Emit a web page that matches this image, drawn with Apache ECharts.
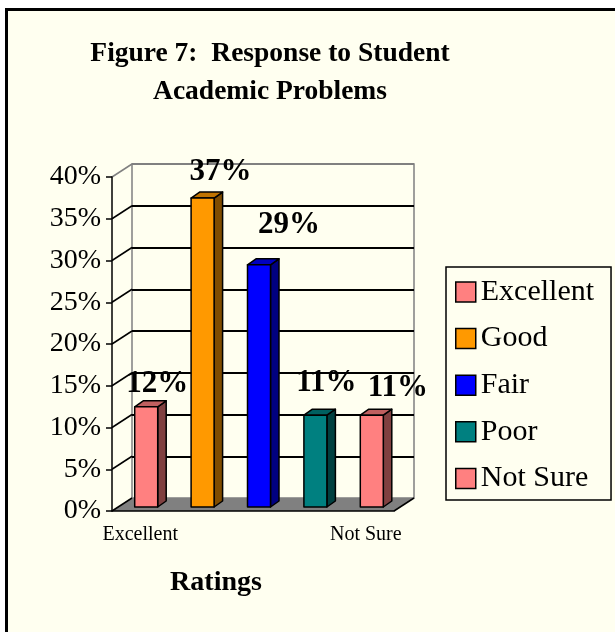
<!DOCTYPE html>
<html>
<head>
<meta charset="utf-8">
<script src="https://cdn.jsdelivr.net/npm/echarts@6/dist/echarts.min.js"></script>
<style>
  html, body { margin: 0; padding: 0; background: #fff; }
  #chart { width: 615px; height: 632px; }
</style>
</head>
<body>
<div id="chart"></div>
<script>
// data
const categories = ['Excellent', 'Good', 'Fair', 'Poor', 'Not Sure'];
const values = [0.12, 0.37, 0.29, 0.11, 0.11];
const yTicks = [0, 0.05, 0.10, 0.15, 0.20, 0.25, 0.30, 0.35, 0.40];
const shownXLabels = ['Excellent', 'Not Sure'];

// colours per bar: front, side, top
const faceColors = ['#FF8080', '#FF9900', '#0000FF', '#008080', '#FF8080'];
const sideColors = ['#804040', '#7F4C00', '#000080', '#004040', '#804040'];
const topColors = ['#C06060', '#C07300', '#0000C0', '#006060', '#C06060'];

// value label placement as Excel left it (px from bar front top)
const labelDx = [11, 18, 30, 11, 26];
const labelGap = [7, 11, 24, 17, 12];

const SERIF = '"Liberation Serif", "Times New Roman", serif';
const BG = '#FFFFF0';

// fake 3d geometry (pixels)
const WALL_DX = 20, WALL_DY = -13;
const BAR_W = 23, BAR_SHIFT_X = 6, BAR_SHIFT_Y = -4;
const BAR_DX = 8.5, BAR_DY = -6;

const chart = echarts.init(document.getElementById('chart'));

function renderBar(idx) {
    return function (params, api) {
        const base = api.coord([api.value(0), 0]);
        const top = api.coord([api.value(0), api.value(1)]);
        const cx = base[0] + BAR_SHIFT_X;
        const x0 = cx - BAR_W / 2, x1 = cx + BAR_W / 2;
        const yb = base[1] + BAR_SHIFT_Y, yt = top[1] + BAR_SHIFT_Y;
        const edge = { stroke: '#000', lineWidth: 1.5, lineJoin: 'round' };
        return {
            type: 'group',
            children: [
                { type: 'polygon', shape: { points: [[x1, yb], [x1 + BAR_DX, yb + BAR_DY], [x1 + BAR_DX, yt + BAR_DY], [x1, yt]] },
                  style: Object.assign({ fill: sideColors[idx] }, edge) },
                { type: 'polygon', shape: { points: [[x0, yt], [x1, yt], [x1 + BAR_DX, yt + BAR_DY], [x0 + BAR_DX, yt + BAR_DY]] },
                  style: Object.assign({ fill: topColors[idx] }, edge) },
                { type: 'rect', shape: { x: x0, y: yt, width: BAR_W, height: yb - yt },
                  style: Object.assign({ fill: faceColors[idx] }, edge) },
                { type: 'text', z2: 10, style: {
                    text: Math.round(api.value(1) * 100) + '%',
                    x: cx + labelDx[idx], y: yt - labelGap[idx], align: 'center', verticalAlign: 'bottom',
                    font: 'bold 31px ' + SERIF, fill: '#000' } }
            ]
        };
    };
}

const barSeries = categories.map((name, i) => ({
    name: name,
    type: 'custom',
    xAxisIndex: 0, yAxisIndex: 0,
    z: 4,
    itemStyle: { color: faceColors[i], borderColor: '#000', borderWidth: 1.5 },
    renderItem: renderBar(i),
    data: [[i, values[i]]]
}));

// side wall lines and floor
const wallSeries = {
    type: 'custom',
    xAxisIndex: 0, yAxisIndex: 0,
    z: 3,
    silent: true,
    renderItem: function (params, api) {
        const cs = params.coordSys;
        const y = api.coord([0, api.value(1)])[1];
        const isTop = api.value(1) === yTicks[yTicks.length - 1];
        return {
            type: 'line',
            shape: { x1: cs.x, y1: y, x2: cs.x + WALL_DX, y2: y + WALL_DY },
            style: { stroke: isTop ? '#808080' : '#000', lineWidth: 1.5 }
        };
    },
    data: yTicks.map(v => [0, v])
};

const floorSeries = {
    type: 'custom',
    xAxisIndex: 0, yAxisIndex: 0,
    z: 2,
    silent: true,
    renderItem: function (params, api) {
        const cs = params.coordSys;
        const yb = api.coord([0, 0])[1];
        const xl = cs.x, xr = cs.x + cs.width;
        return {
            type: 'group',
            children: [
                { type: 'polygon', shape: { points: [[xl, yb], [xr, yb], [xr + WALL_DX, yb + WALL_DY], [xl + WALL_DX, yb + WALL_DY]] },
                  style: { fill: '#808080' } },
                { type: 'line', shape: { x1: xr, y1: yb, x2: xr + WALL_DX, y2: yb + WALL_DY },
                  style: { stroke: '#000', lineWidth: 1.5 } }
            ]
        };
    },
    data: [[0, 0]]
};

const backLineColors = yTicks.map((v, i) =>
    i === 0 ? 'rgba(0,0,0,0)' : (i === yTicks.length - 1 ? '#808080' : '#000'));

chart.setOption({
    backgroundColor: '#fff',
    animation: false,
    graphic: [{
        type: 'rect', z: -100, silent: true,
        shape: { x: 6.5, y: 9.5, width: 700, height: 700 },
        style: { fill: BG, stroke: '#000', lineWidth: 3 }
    }],
    title: [
        {
            text: 'Figure 7:  Response to Student\nAcademic Problems',
            left: 265, top: 30, textAlign: 'center',
            textStyle: { fontFamily: SERIF, fontWeight: 'bold', fontSize: 27.5, lineHeight: 38, color: '#000' }
        },
        {
            text: 'Ratings',
            left: 211, top: 564, textAlign: 'center',
            textStyle: { fontFamily: SERIF, fontWeight: 'bold', fontSize: 28, color: '#000' }
        }
    ],
    legend: {
        orient: 'vertical',
        left: 446, top: 267,
        icon: 'rect',
        itemWidth: 20, itemHeight: 20, itemGap: 15.6,
        padding: [9.5, 17, 6, 9],
        borderColor: '#000', borderWidth: 1.5,
        textStyle: { fontFamily: SERIF, fontSize: 30, lineHeight: 31, color: '#000' },
        data: categories.map((c, i) => ({
            name: c,
            itemStyle: { color: faceColors[i], borderColor: '#000', borderWidth: 1.5 }
        }))
    },
    grid: [
        { left: 112, top: 177, width: 282, height: 334, outerBoundsMode: 'none' },
        { left: 112 + WALL_DX, top: 177 + WALL_DY, width: 282, height: 334, outerBoundsMode: 'none',
          show: true, borderColor: '#808080', borderWidth: 1.5, backgroundColor: 'transparent' }
    ],
    xAxis: [
        {
            gridIndex: 0, type: 'category', data: categories, z: 6,
            axisLine: { lineStyle: { color: '#000', width: 1.5 } },
            axisTick: { length: 5, lineStyle: { color: '#000', width: 1.5 } },
            axisLabel: {
                interval: (index, value) => shownXLabels.includes(value),
                margin: 14, fontFamily: SERIF, fontSize: 20, color: '#000'
            },
            splitLine: { show: false }
        },
        { gridIndex: 1, type: 'category', data: categories, show: false }
    ],
    yAxis: [
        {
            gridIndex: 0, type: 'value', min: 0, max: 0.4, interval: 0.05, z: 6,
            axisLine: { show: true, lineStyle: { color: '#000', width: 1.5 } },
            axisTick: { show: true, length: 6, lineStyle: { color: '#000', width: 1.5 } },
            axisLabel: {
                margin: 11, fontFamily: SERIF, fontSize: 28, color: '#000',
                formatter: v => Math.round(v * 100) + '%'
            },
            splitLine: { show: false }
        },
        {
            gridIndex: 1, type: 'value', min: 0, max: 0.4, interval: 0.05,
            axisLine: { show: false }, axisTick: { show: false }, axisLabel: { show: false },
            splitLine: { show: true, lineStyle: { color: backLineColors, width: 1.8 } }
        }
    ],
    series: [floorSeries, wallSeries].concat(barSeries)
});
</script>
</body>
</html>
